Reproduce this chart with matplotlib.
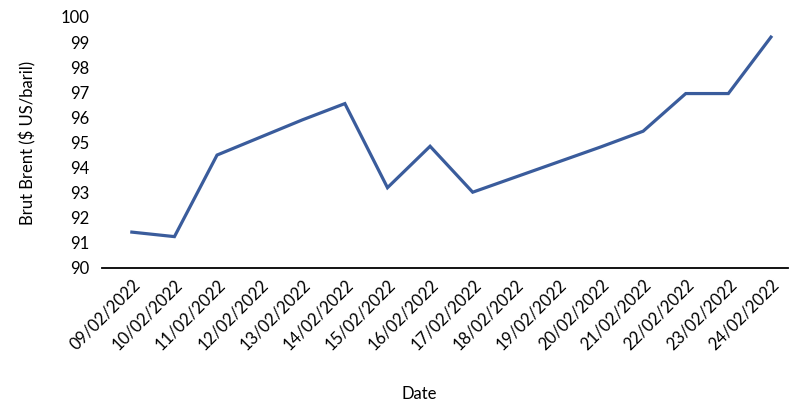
import matplotlib.pyplot as plt

# Brent crude price, Feb 2022
dates = ["09/02/2022", "10/02/2022", "11/02/2022", "12/02/2022", "13/02/2022",
         "14/02/2022", "15/02/2022", "16/02/2022", "17/02/2022", "18/02/2022",
         "19/02/2022", "20/02/2022", "21/02/2022", "22/02/2022", "23/02/2022",
         "24/02/2022"]
brent = [91.43, 91.25, 94.5, 95.2, 95.9, 96.55, 93.2, 94.85, 93.02, 93.62,
         94.22, 94.82, 95.45, 96.95, 96.95, 99.2]

plt.rcParams['font.family'] = ['Lato', 'DejaVu Sans']

fig = plt.figure(figsize=(8, 4.16), dpi=100)
ax = fig.add_axes([102 / 800, 1 - 268 / 416, 686 / 800, 251 / 416])

x = list(range(len(dates)))
ax.plot(x, brent, color="#3A5C9C", linewidth=2.3, solid_joinstyle="miter")

ax.set_xlim(-0.7, 15.4)
ax.set_ylim(90, 100)
ax.set_yticks(range(90, 101))
ax.set_xticks(x)
ax.set_xticklabels(dates, rotation=45, ha="right", rotation_mode="anchor")

for s in ["top", "right", "left"]:
    ax.spines[s].set_visible(False)
ax.spines["bottom"].set_color("black")
ax.spines["bottom"].set_linewidth(1.3)

ax.tick_params(axis="y", length=0, pad=9, labelsize=12)
ax.tick_params(axis="x", length=0, pad=6, labelsize=12)

ax.set_ylabel("Brut Brent ($ US/baril)", fontsize=12)
ax.yaxis.set_label_coords(-0.095, 0.5)
ax.set_xlabel("Date", fontsize=12)
ax.xaxis.set_label_coords(0.462, -0.47)

fig.savefig("out.png", dpi=100)
